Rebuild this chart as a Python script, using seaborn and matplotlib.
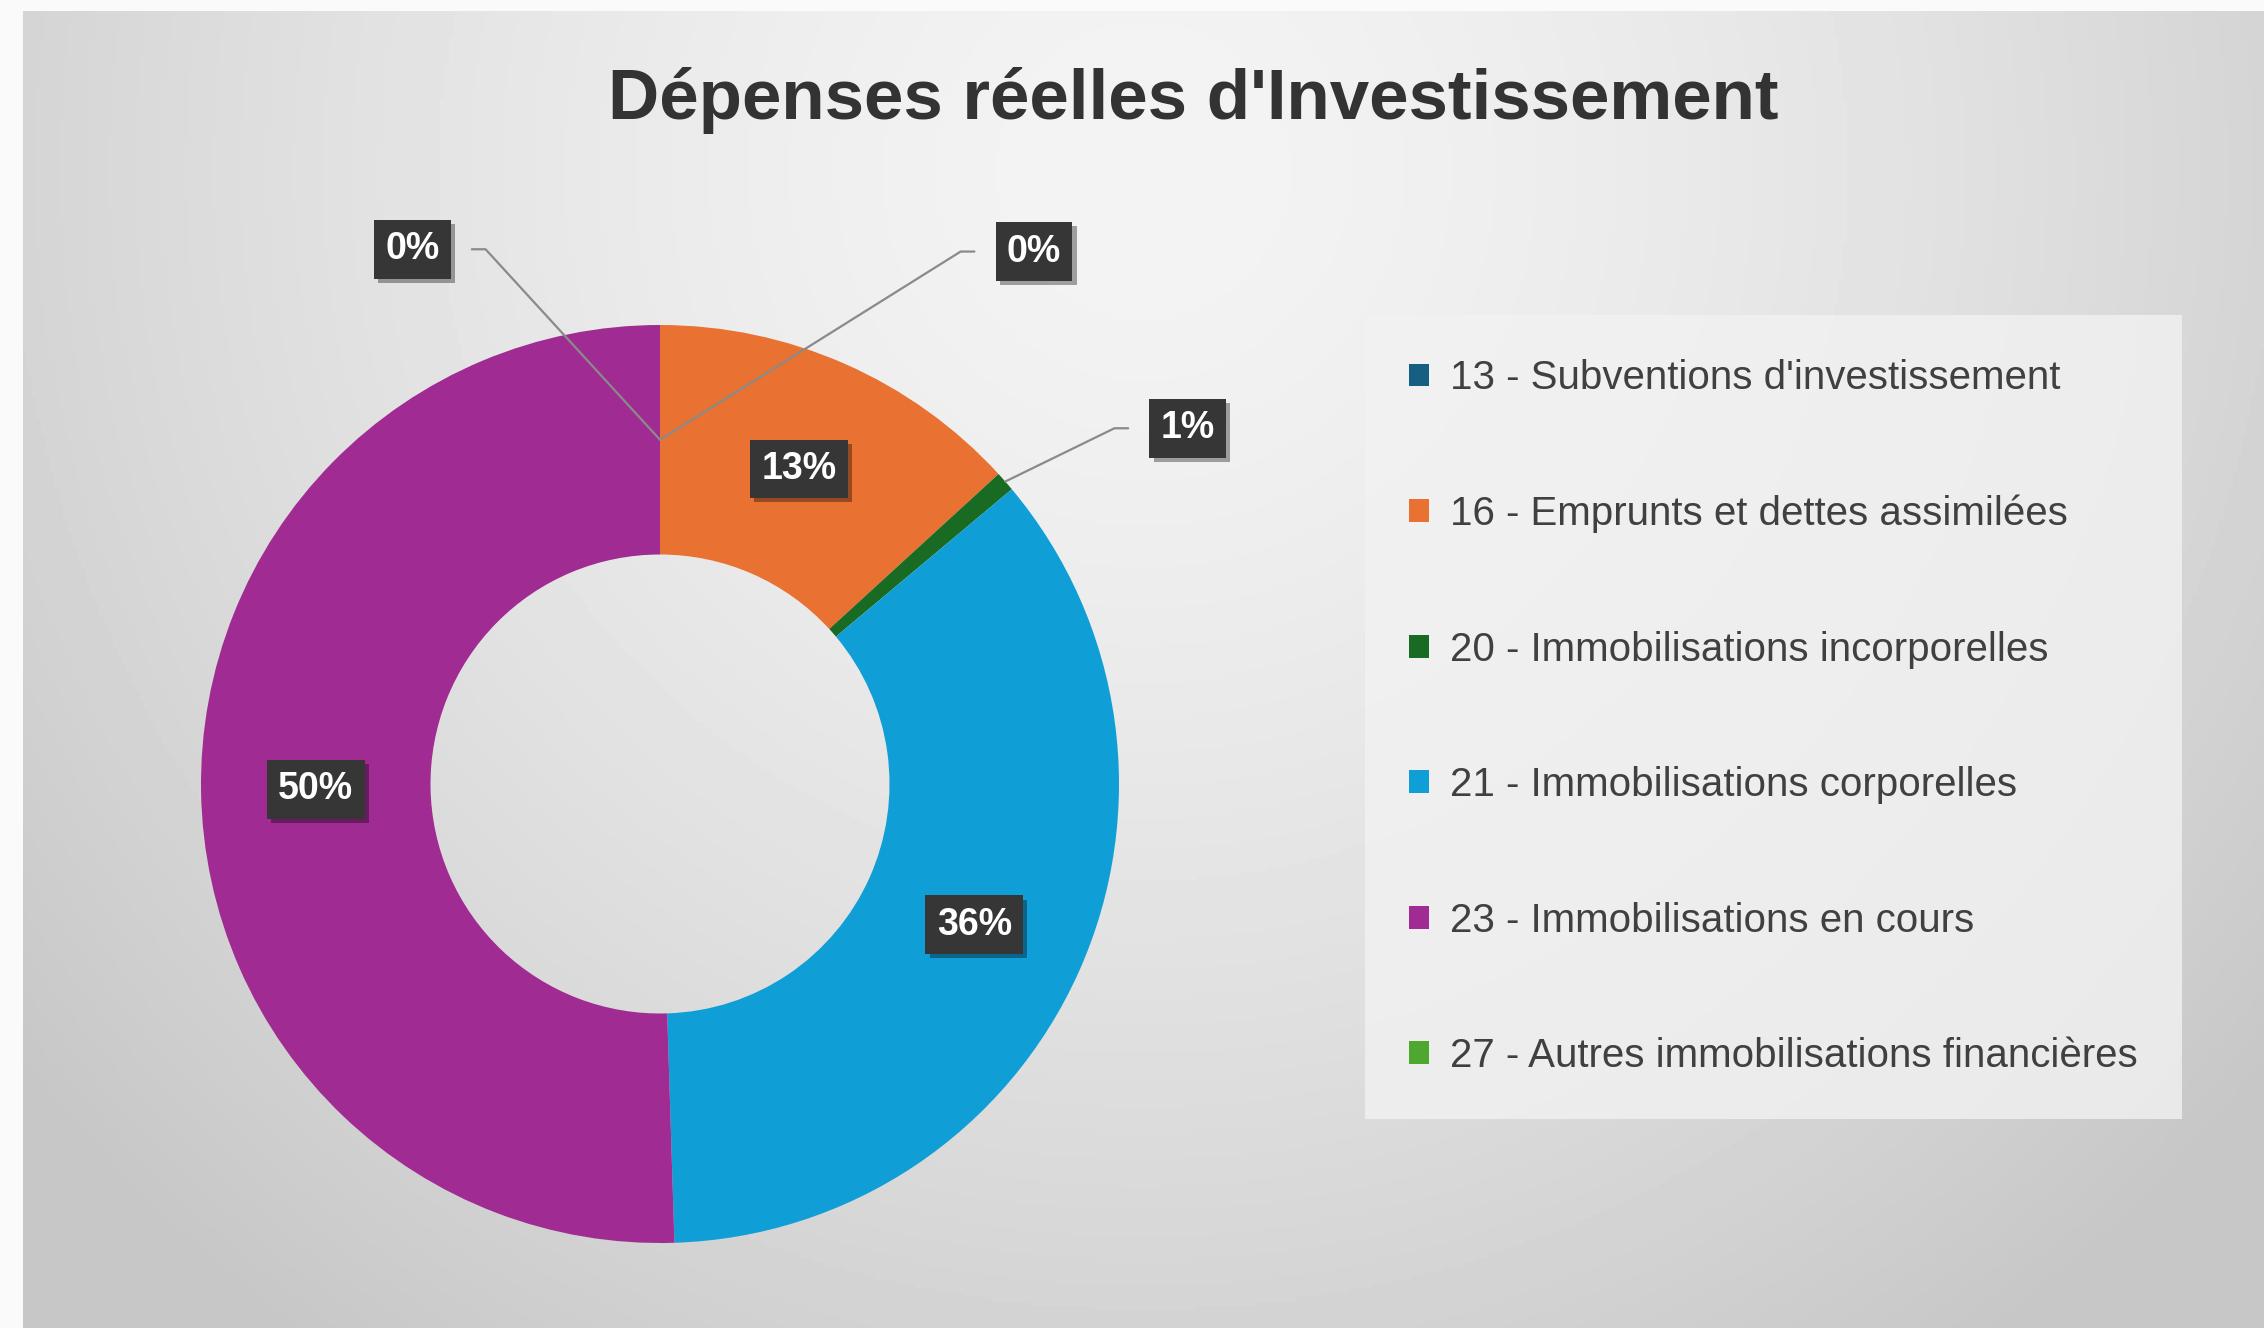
import numpy as np
import seaborn as sns
import matplotlib.pyplot as plt
from matplotlib.patches import Patch
import matplotlib.patheffects as pe

# données (parts en %)
categories = [
    "13 - Subventions d'investissement",
    "16 - Emprunts et dettes assimilées",
    "20 - Immobilisations incorporelles",
    "21 - Immobilisations corporelles",
    "23 - Immobilisations en cours",
    "27 - Autres immobilisations financières",
]
parts = [0.0, 13.2, 0.7, 35.6, 50.5, 0.0]
couleurs = ["#156082", "#E97132", "#196B24", "#0F9ED5", "#A02B93", "#4EA72E"]

sns.set_theme(style="white")
plt.rcParams["font.family"] = ["Liberation Sans", "DejaVu Sans"]

W, H = 2264, 1328
fig = plt.figure(figsize=(W / 100, H / 100), dpi=100)
fig.patch.set_facecolor("#fafafa")

# fond dégradé de la zone graphique
bg = fig.add_axes([23 / W, 0, 1 - 23 / W, 1 - 11 / H])
yy, xx = np.mgrid[0:1:300j, 0:1:500j]
d = np.sqrt(((xx - 0.5) / 0.7) ** 2 + ((yy - 0.12) / 1.2) ** 2)
img = np.clip(0.955 - 0.2 * d ** 1.5, 0.78, 1)
bg.imshow(img, cmap="gray", vmin=0, vmax=1, aspect="auto", extent=[0, 1, 1, 0])
bg.axis("off")

# anneau
R = 459
cx, cy = 660, 784
half = 720
ax = fig.add_axes([(cx - half) / W, (H - cy - half) / H, 2 * half / W, 2 * half / H])

wedges, _ = ax.pie(parts, colors=couleurs, startangle=90, counterclock=False,
                   radius=1, wedgeprops=dict(width=0.5, linewidth=0))
ax.set_xlim(-half / R, half / R)
ax.set_ylim(-half / R, half / R)
ax.axis("off")

box = dict(boxstyle="square,pad=0.3", facecolor="#363636", edgecolor="none")
ombre = [pe.withSimplePatchShadow(offset=(3, -3), shadow_rgbFace="black", alpha=0.35)]

def etiquette(x, y, txt):
    t = ax.text(x, y, txt, ha="center", va="center", color="white",
                fontsize=27, fontweight="bold", bbox=box, zorder=5)
    t.get_bbox_patch().set_path_effects(ombre)
    return t

# étiquettes dans l'anneau
total = sum(parts)
cum = 0
for i, v in enumerate(parts):
    mid = 90 - (cum + v / 2) / total * 360
    cum += v
    pct = f"{round(v / total * 100):.0f}%"
    if v / total > 0.05:
        a = np.deg2rad(mid)
        etiquette(0.75 * np.cos(a), 0.75 * np.sin(a), pct)

# étiquettes extérieures avec lignes de rappel
ext = {0: (-0.54, 1.165), 5: (0.815, 1.16), 2: (1.15, 0.775)}
cum = 0
for i, v in enumerate(parts):
    mid = 90 - (cum + v / 2) / total * 360
    cum += v
    if i not in ext:
        continue
    lx, ly = ext[i]
    a = np.deg2rad(mid)
    r0 = 0.75 if v / total < 0.002 else 1.0
    px, py = r0 * np.cos(a), r0 * np.sin(a)
    side = -1 if lx < 0 else 1
    ex = lx - side * 0.13
    ax.plot([px, ex - side * 0.03, ex], [py, ly, ly], color="#8a8a8a", lw=1.6, zorder=4)
    etiquette(lx, ly, f"{round(v / total * 100):.0f}%")

# titre
fig.text(1193 / W, 1 - 101 / H, "Dépenses réelles d'Investissement",
         ha="center", va="center", fontsize=51, fontweight="bold", color="#333333")

# légende
handles = [Patch(facecolor=c, edgecolor="none") for c in couleurs]
leg = fig.legend(handles, categories, loc="upper left",
                 bbox_to_anchor=(1365 / W, 1 - 315 / H), frameon=True,
                 fontsize=29, labelspacing=2.42, handlelength=0.5, handleheight=0.5,
                 handletextpad=0.5, borderpad=1.1, borderaxespad=0, fancybox=False,
                 labelcolor="#404040")
leg.get_frame().set_facecolor((0.95, 0.95, 0.95, 0.8))
leg.get_frame().set_edgecolor("none")

fig.savefig("out.png", dpi=100, facecolor=fig.get_facecolor())
